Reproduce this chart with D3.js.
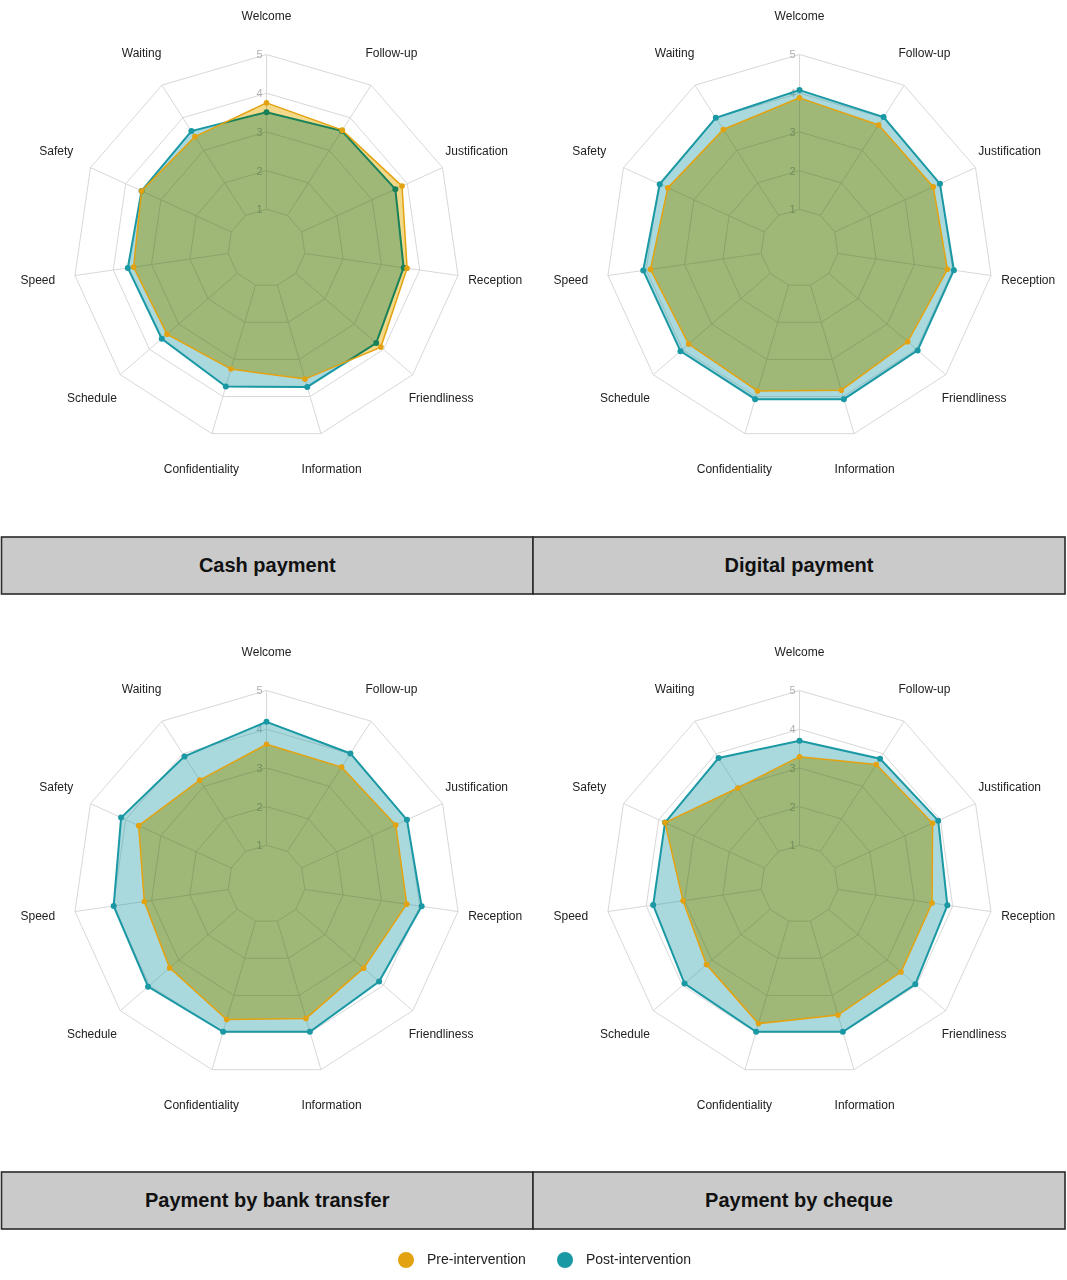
<!DOCTYPE html>
<html>
<head>
<meta charset="utf-8">
<script src="https://cdn.jsdelivr.net/npm/d3@7"></script>
<style>
  body { margin: 0; background: #fff; }
  text { font-family: "Liberation Sans", Arial, sans-serif; }
</style>
</head>
<body>
<div id="radar"></div>
<script>
// Data

const axes = ["Welcome", "Follow-up", "Justification", "Reception", "Friendliness",
  "Information", "Confidentiality", "Schedule", "Speed", "Safety", "Waiting"];
const panels = ["Cash payment", "Digital payment", "Payment by bank transfer", "Payment by cheque"];
const levels = [1, 2, 3, 4, 5];
const seriesNames = ["Pre-intervention", "Post-intervention"];

const cashPre = [3.75, 3.62, 3.85, 3.67, 3.91, 3.53, 3.26, 3.40, 3.47, 3.55, 3.42];
const cashPost = [3.51, 3.60, 3.66, 3.58, 3.75, 3.74, 3.73, 3.58, 3.62, 3.55, 3.59];
const digitalPre = [3.88, 3.78, 3.80, 3.86, 3.70, 3.83, 3.85, 3.79, 3.89, 3.74, 3.64];
const digitalPost = [4.08, 4.02, 3.99, 4.03, 4.04, 4.07, 4.07, 4.07, 4.08, 3.97, 4.00];
const transferPre = [3.61, 3.59, 3.67, 3.66, 3.32, 3.62, 3.65, 3.31, 3.19, 3.63, 3.19];
const transferPost = [4.19, 4.01, 3.99, 4.05, 3.85, 3.98, 3.98, 4.05, 3.99, 4.13, 3.92];
const chequePre = [3.29, 3.67, 3.78, 3.46, 3.47, 3.53, 3.76, 3.18, 3.04, 3.82, 2.95];
const chequePost = [3.70, 3.85, 3.94, 3.86, 3.96, 3.98, 3.98, 3.93, 3.82, 3.82, 3.87];

const preValues = [cashPre, digitalPre, transferPre, chequePre];
const postValues = [cashPost, digitalPost, transferPost, chequePost];

const drawRadar = () => {
  const width = 1067;
  const height = 1280;
  const preColor = "#e3a20f";
  const preFill = "#e3b414";
  const postColor = "#1a98a4";

  const svg = d3.select("#radar")
    .append("svg")
      .attr("width", width)
      .attr("height", height)
      .attr("viewBox", `0 0 ${width} ${height}`);

  const rScale = d3.scaleLinear()
    .domain([0, 5])
    .range([0, 193.5]);
  const angle = d3.scalePoint()
    .domain(axes)
    .range([0, 2 * Math.PI * (axes.length - 1) / axes.length]);

  const radial = d3.lineRadial()
    .angle((d, i) => angle(axes[i]))
    .radius(d => rScale(d))
    .curve(d3.curveLinearClosed);

  const px = (name, v) => rScale(v) * Math.sin(angle(name));
  const py = (name, v) => -rScale(v) * Math.cos(angle(name));

  const colX = [266.5, 799.5];
  const rowY = [248, 884];
  const stripY = [537, 1172];

  panels.forEach((title, p) => {
    const col = p % 2;
    const row = Math.floor(p / 2);
    const g = svg.append("g")
      .attr("transform", `translate(${colX[col]}, ${rowY[row]})`);

    // grid
    g.selectAll(".ring")
      .data(levels)
      .join("path")
        .attr("class", "ring")
        .attr("d", k => radial(axes.map(() => k)))
        .attr("fill", "none")
        .attr("stroke", "#d8d8d8")
        .attr("stroke-width", 1);

    g.selectAll(".spoke")
      .data(axes)
      .join("line")
        .attr("class", "spoke")
        .attr("x1", d => px(d, levels[0]))
        .attr("y1", d => py(d, levels[0]))
        .attr("x2", d => px(d, levels[levels.length - 1]))
        .attr("y2", d => py(d, levels[levels.length - 1]))
        .attr("stroke", "#d8d8d8")
        .attr("stroke-width", 1);

    g.selectAll(".lvl")
      .data(levels)
      .join("text")
        .attr("class", "lvl")
        .text(d => d)
        .attr("x", -4)
        .attr("y", d => -rScale(d) + 1)
        .attr("text-anchor", "end")
        .attr("dominant-baseline", "middle")
        .attr("font-size", 11)
        .attr("fill", "#b0b0b0");

    // post first, pre on top with multiply
    const post = postValues[p];
    const pre = preValues[p];

    g.append("path")
      .attr("d", radial(post))
      .attr("fill", postColor)
      .attr("fill-opacity", 0.375)
      .attr("stroke", postColor)
      .attr("stroke-width", 2);

    g.selectAll(".dot-post")
      .data(post)
      .join("circle")
        .attr("class", "dot-post")
        .attr("cx", (d, i) => px(axes[i], d))
        .attr("cy", (d, i) => py(axes[i], d))
        .attr("r", 3)
        .attr("fill", postColor);

    g.append("path")
      .attr("d", radial(pre))
      .attr("fill", preFill)
      .attr("fill-opacity", 0.5)
      .style("mix-blend-mode", "multiply");

    g.append("path")
      .attr("d", radial(pre))
      .attr("fill", "none")
      .attr("stroke", preColor)
      .attr("stroke-width", 1.5);

    g.selectAll(".dot-pre")
      .data(pre)
      .join("circle")
        .attr("class", "dot-pre")
        .attr("cx", (d, i) => px(axes[i], d))
        .attr("cy", (d, i) => py(axes[i], d))
        .attr("r", 2.8)
        .attr("fill", preColor);

    // axis names
    g.selectAll(".axis-label")
      .data(axes)
      .join("text")
        .attr("class", "axis-label")
        .text(d => d)
        .attr("x", d => px(d, 5.97))
        .attr("y", d => py(d, 5.97))
        .attr("text-anchor", "middle")
        .attr("dominant-baseline", "middle")
        .attr("font-size", 12)
        .attr("fill", "#222");

    // strip
    const x0 = col === 0 ? 1.5 : 533;
    const x1 = col === 0 ? 533 : 1065;
    svg.append("rect")
      .attr("x", x0)
      .attr("y", stripY[row])
      .attr("width", x1 - x0)
      .attr("height", 57)
      .attr("fill", "#cacaca")
      .attr("stroke", "#2a2a2a")
      .attr("stroke-width", 1.6);

    svg.append("text")
      .text(title)
      .attr("x", (x0 + x1) / 2)
      .attr("y", stripY[row] + 30)
      .attr("text-anchor", "middle")
      .attr("dominant-baseline", "middle")
      .attr("font-size", 20)
      .attr("font-weight", "bold")
      .attr("fill", "#111");
  });

  // legend
  const legend = svg.append("g")
    .attr("transform", "translate(0, 1260)");
  const legendX = [406, 565];
  const colors = [preColor, postColor];

  legend.selectAll("circle")
    .data(seriesNames)
    .join("circle")
      .attr("cx", (d, i) => legendX[i])
      .attr("cy", 0)
      .attr("r", 8)
      .attr("fill", (d, i) => colors[i]);

  legend.selectAll("text")
    .data(seriesNames)
    .join("text")
      .text(d => d)
      .attr("x", (d, i) => legendX[i] + 21)
      .attr("y", 0)
      .attr("dominant-baseline", "middle")
      .attr("font-size", 14)
      .attr("fill", "#222");
};

drawRadar();
</script>
</body>
</html>
